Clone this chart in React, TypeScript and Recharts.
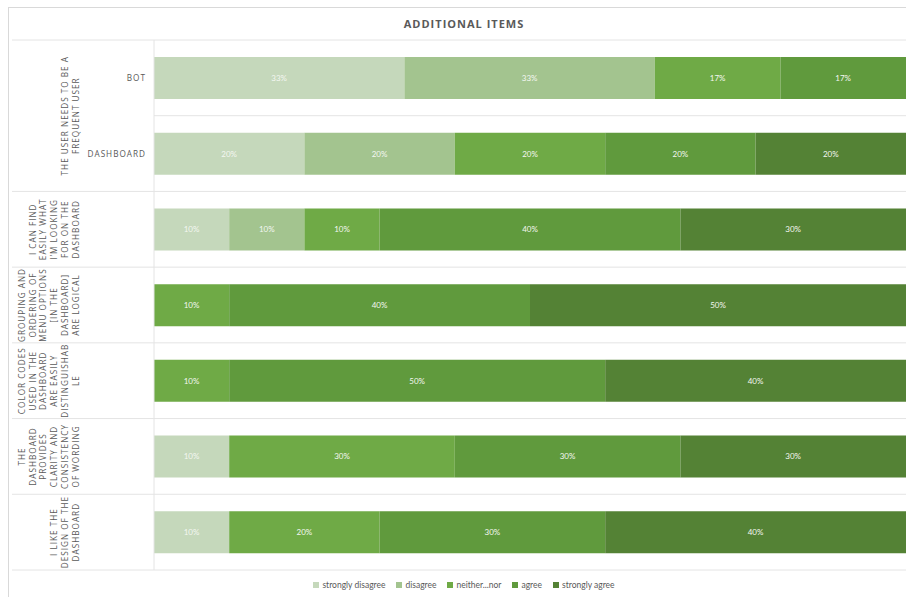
import React from "react";
import { BarChart, Bar, XAxis, YAxis, CartesianGrid, Legend, LabelList } from "recharts";

// Likert response scale (stack order, left to right)
const seriesKeys = ["sd", "d", "n", "a", "sa"];
const seriesNames = ["strongly disagree", "disagree", "neither...nor", "agree", "strongly agree"];
const seriesColors = ["#c5d8bb", "#a3c48f", "#6faa46", "#609a3d", "#548235"];

// One row per bar, top to bottom
const rowIds = ["frequent-bot", "frequent-dashboard", "find", "grouping", "colors", "wording", "design"];
const rowItems = ["BOT", "DASHBOARD", "", "", "", "", ""];

// Question labels (pre-wrapped) and how many bars each question covers
const groupLines: (string[] | null)[] = [
  ["THE USER NEEDS TO BE A", "FREQUENT USER"],
  null,
  ["I CAN FIND", "EASILY WHAT", "I\u2019M LOOKING", "FOR ON THE", "DASHBOARD"],
  ["GROUPING AND", "ORDERING OF", "MENU OPTIONS", "[IN THE", "DASHBOARD]", "ARE LOGICAL"],
  ["COLOR CODES", "USED IN THE", "DASHBOARD", "ARE EASILY", "DISTINGUISHAB", "LE"],
  ["THE", "DASHBOARD", "PROVIDES", "CLARITY AND", "CONSISTENCY", "OF WORDING"],
  ["I LIKE THE", "DESIGN OF THE", "DASHBOARD"],
];
const groupSpan = [2, 0, 1, 1, 1, 1, 1];

// Share of responses (%)
const stronglyDisagree = [33.3, 20, 10, 0, 0, 10, 10];
const disagree = [33.3, 20, 10, 0, 0, 0, 0];
const neither = [16.7, 20, 10, 10, 10, 30, 20];
const agree = [16.7, 20, 40, 40, 50, 30, 30];
const stronglyAgree = [0, 20, 30, 50, 40, 30, 40];

const seriesValues = [stronglyDisagree, disagree, neither, agree, stronglyAgree];

const data = rowIds.map((id, i) => {
  const row: Record<string, string | number> = { id };
  seriesKeys.forEach((k, s) => {
    row[k] = seriesValues[s][i];
  });
  return row;
});

const CHART_W = 912;
const CHART_H = 590;
const MARGIN = { top: 33, right: 14, bottom: 0, left: 0 };
const AXIS_W = 146;
const LEGEND_H = 27;
const PLOT_H = CHART_H - MARGIN.top - MARGIN.bottom - LEGEND_H;
const BAND = PLOT_H / rowIds.length;

const GRID = "#e4e4e4";
const TEXT = "#595959";
const FONT = "'Open Sans', sans-serif";

const CategoryTick = (props: any) => {
  const { payload } = props;
  const i: number = payload?.index ?? props.index ?? 0;
  const cy: number = payload?.coordinate ?? props.y;
  const top = cy - BAND / 2;
  const lines = groupLines[i];
  const span = groupSpan[i];
  const isLast = i === rowIds.length - 1;
  return (
    <g>
      {rowItems[i] ? (
        <text
          x={138}
          y={cy}
          textAnchor="end"
          dominantBaseline="central"
          fill={TEXT}
          fontFamily={FONT}
          fontSize={8.2}
          letterSpacing={1}
        >
          {rowItems[i]}
        </text>
      ) : null}
      {lines ? (
        <>
          <line x1={4} x2={AXIS_W} y1={top} y2={top} stroke={GRID} strokeWidth={1} />
          <g transform={`translate(67, ${top + (span * BAND) / 2}) rotate(-90)`}>
            <text
              textAnchor="middle"
              fill={TEXT}
              fontFamily={FONT}
              fontSize={8.2}
              letterSpacing={1}
            >
              {lines.map((ln, j) => (
                <tspan key={j} x={0} y={-(lines.length - 1 - j) * 10.7} dominantBaseline="central">
                  {ln}
                </tspan>
              ))}
            </text>
          </g>
        </>
      ) : null}
      {isLast ? (
        <line x1={4} x2={AXIS_W} y1={top + BAND} y2={top + BAND} stroke={GRID} strokeWidth={1} />
      ) : null}
    </g>
  );
};

const renderLegend = () => (
  <div
    style={{
      display: "flex",
      justifyContent: "center",
      alignItems: "center",
      paddingTop: 9,
      fontFamily: "Lato, sans-serif",
      fontSize: 8.5,
      color: TEXT,
      lineHeight: "12px",
    }}
  >
    {seriesNames.map((name, s) => (
      <span key={name} style={{ display: "inline-flex", alignItems: "center", marginRight: s < seriesNames.length - 1 ? 11 : 0 }}>
        <span style={{ width: 6, height: 6, background: seriesColors[s], marginRight: 3, display: "inline-block" }} />
        {name}
      </span>
    ))}
  </div>
);

const pct = (v: any) => {
  const n = Number(v);
  return n > 0 ? `${Math.round(n)}%` : "";
};

export default function App() {
  return (
    <div
      style={{
        position: "absolute",
        left: 8,
        top: 7,
        width: 898,
        height: CHART_H,
        overflow: "hidden",
        borderLeft: "1px solid #d9d9d9",
        borderTop: "1px solid #d9d9d9",
        boxSizing: "border-box",
        background: "#fff",
      }}
    >
      <div style={{ position: "absolute", left: -1, top: -1, width: CHART_W, height: CHART_H }}>
        <div
          style={{
            position: "absolute",
            left: 0,
            top: 0,
            width: CHART_W,
            height: 33,
            lineHeight: "34px",
            textAlign: "center",
            fontFamily: FONT,
            fontWeight: 700,
            fontSize: 11,
            letterSpacing: 1,
            color: TEXT,
          }}
        >
          ADDITIONAL ITEMS
        </div>
        <BarChart
          width={CHART_W}
          height={CHART_H}
          data={data}
          layout="vertical"
          margin={MARGIN}
          barSize={42}
        >
          <CartesianGrid
            stroke={GRID}
            vertical={false}
            horizontalCoordinatesGenerator={(p: any) => {
              const top = p?.offset?.top ?? MARGIN.top;
              const h = p?.offset?.height ?? PLOT_H;
              return rowIds.map((_, i) => top + (i * h) / rowIds.length).concat([top + h]);
            }}
          />
          <XAxis type="number" domain={[0, 100]} hide />
          <YAxis
            type="category"
            dataKey="id"
            width={AXIS_W}
            tickLine={false}
            axisLine={{ stroke: GRID }}
            tick={<CategoryTick />}
            interval={0}
          />
          <Legend verticalAlign="bottom" height={LEGEND_H} content={renderLegend} wrapperStyle={{ left: 0, width: CHART_W }} />
          {seriesKeys.map((k, s) => (
            <Bar key={k} dataKey={k} name={seriesNames[s]} stackId="likert" fill={seriesColors[s]} isAnimationActive={false}>
              <LabelList
                dataKey={k}
                position="center"
                formatter={pct}
                fill="#f4f7f1"
                fontSize={8}
                fontFamily="Lato, sans-serif"
              />
            </Bar>
          ))}
        </BarChart>
      </div>
    </div>
  );
}
